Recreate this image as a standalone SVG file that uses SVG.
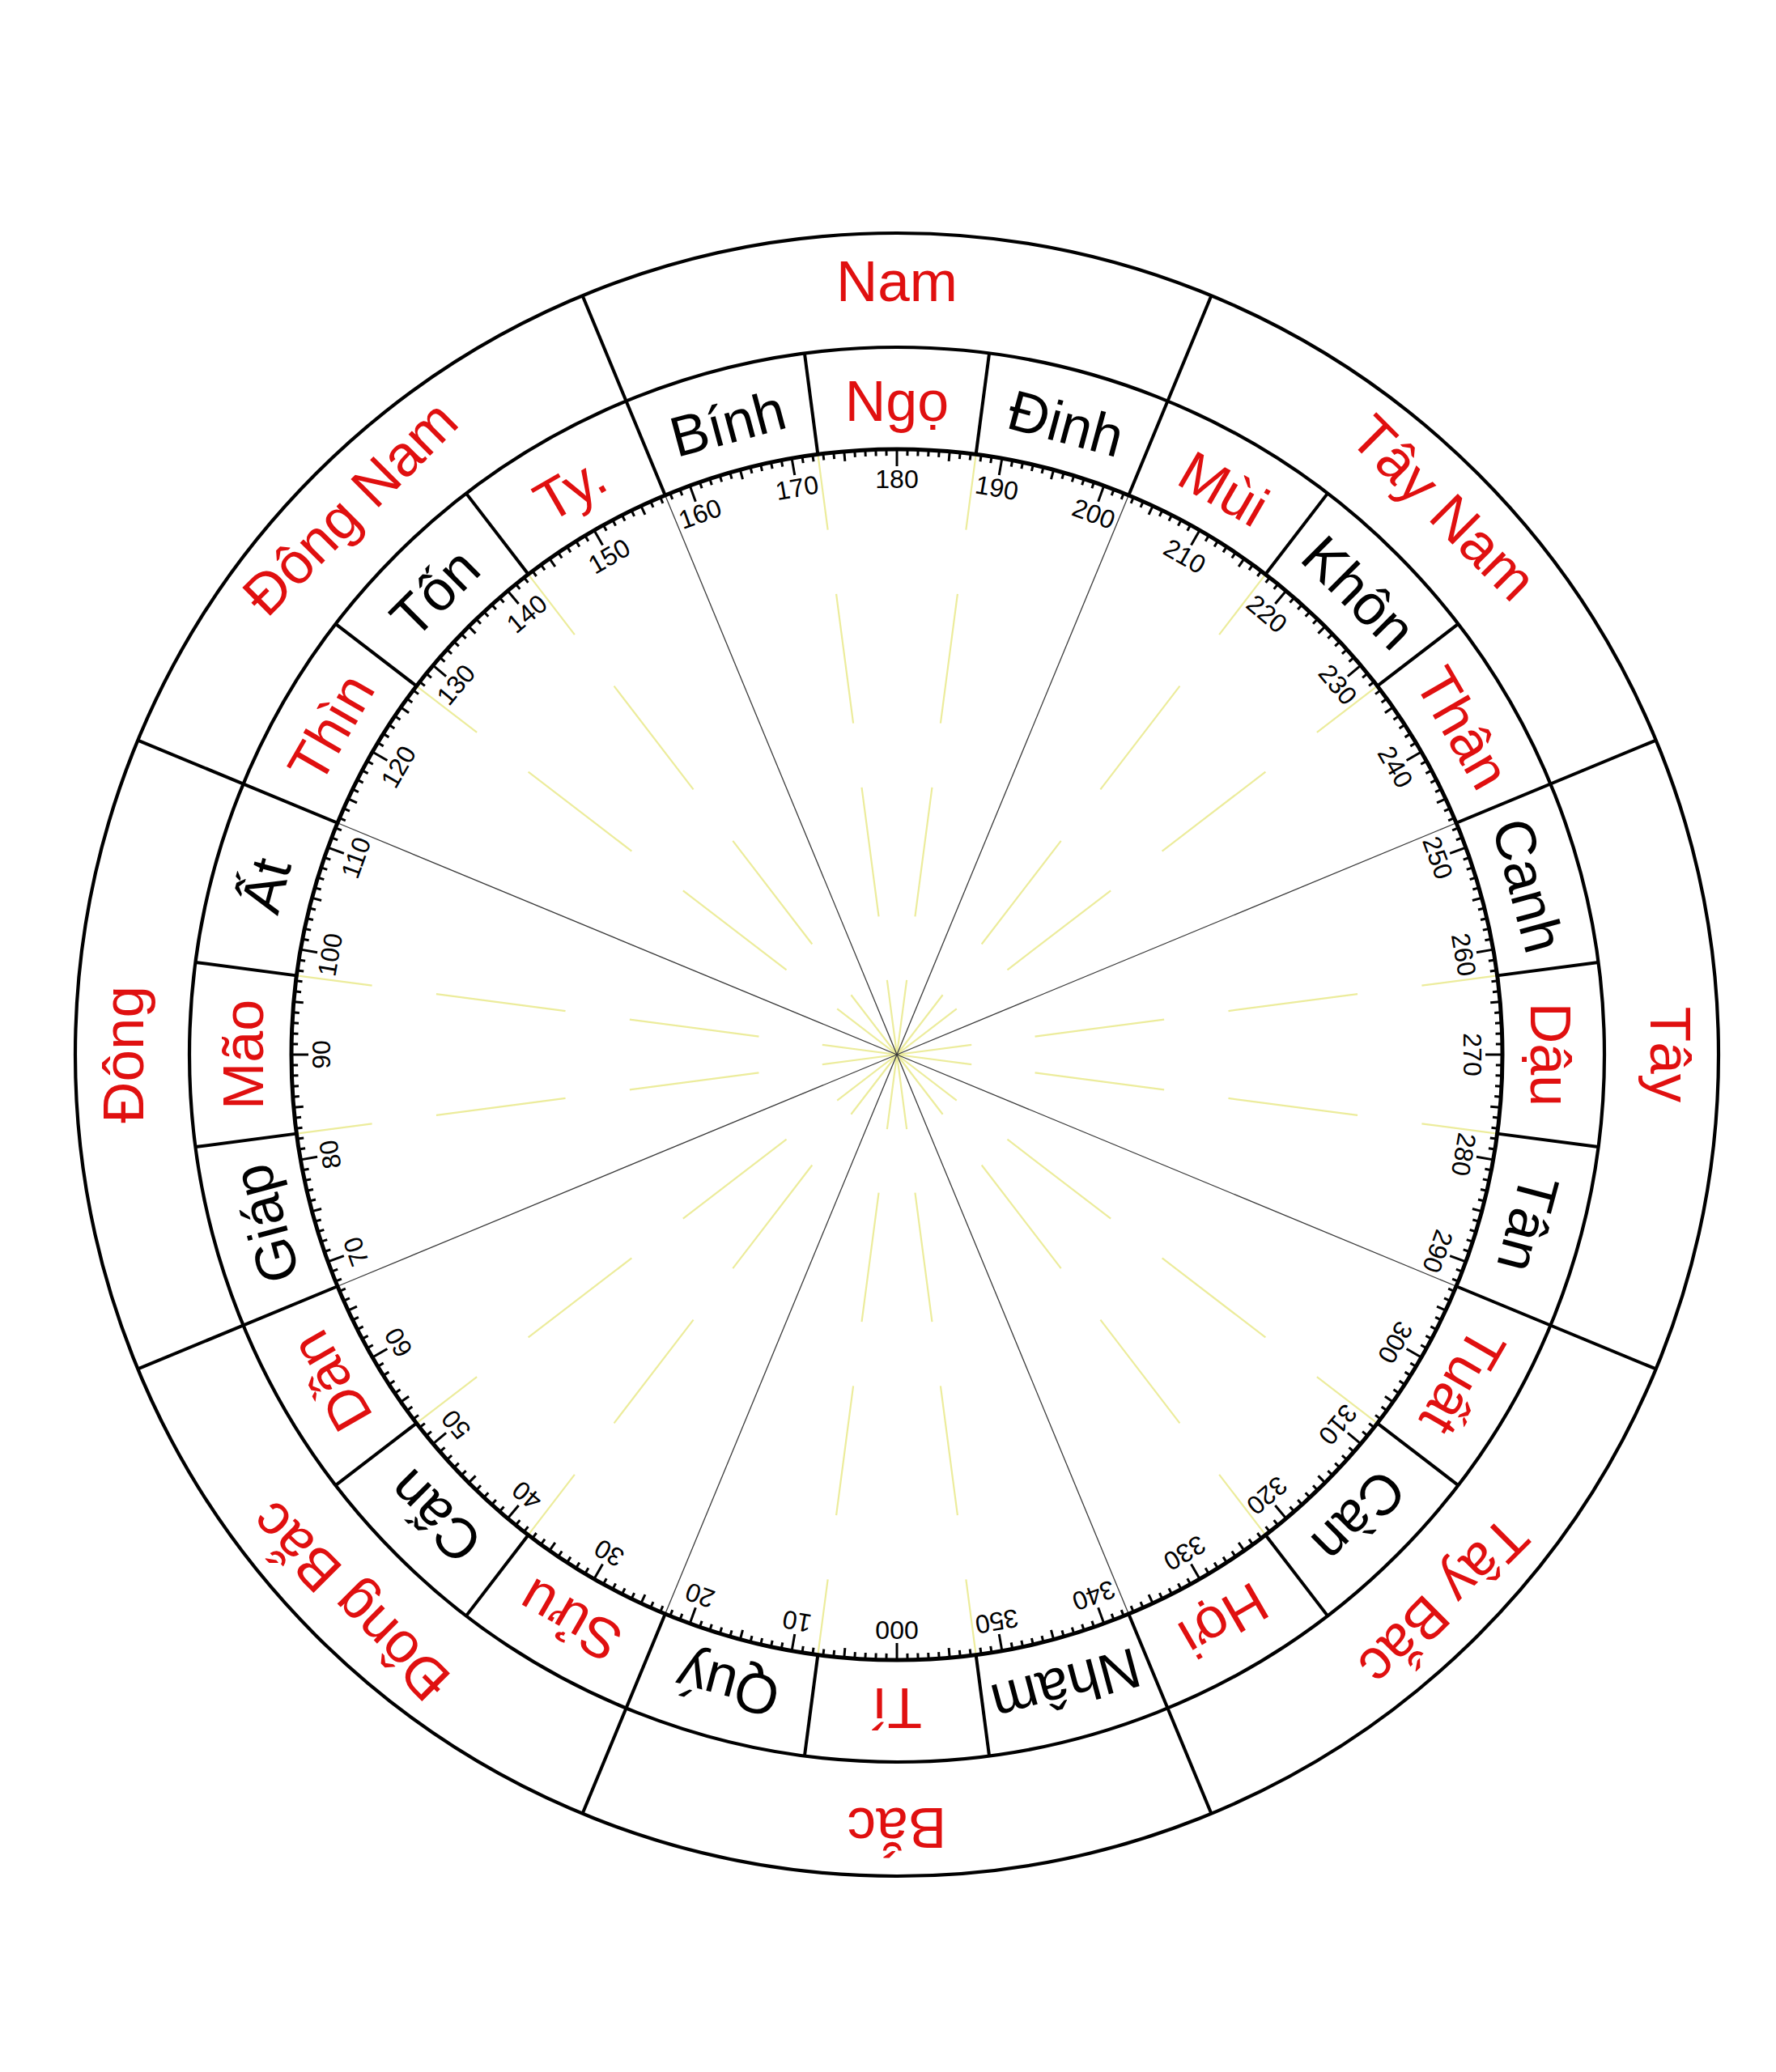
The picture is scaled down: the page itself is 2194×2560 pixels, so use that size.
<svg xmlns="http://www.w3.org/2000/svg" xmlns:xlink="http://www.w3.org/1999/xlink" width="2194" height="2560" viewBox="0 0 2194 2560">
<style>
.ring{fill:none;stroke:#000;stroke-width:4.2}
.scale{fill:none;stroke:#000;stroke-width:5}
.dv{stroke:#000;stroke-width:4}
.gray{stroke:#3c3c3c;stroke-width:1.3}
.yel{stroke:#ecec9c;stroke-width:2.2;stroke-dasharray:93 79 161 80 161 80 94}
.tk{stroke:#000;stroke-width:3}
text{font-family:"Liberation Sans",Arial,sans-serif;text-anchor:middle}
.num{font-size:32px;fill:#000}
.mt{font-size:70px}
.dir{font-size:71px;fill:#e01010}
.r{fill:#e01010}
.k{fill:#000}
</style>
<defs>
<g id="tk10">
<line class="tk" x1="0" y1="748" x2="0" y2="727"/>
<line class="tk" x1="0" y1="748" x2="0" y2="740" transform="rotate(1)"/>
<line class="tk" x1="0" y1="748" x2="0" y2="740" transform="rotate(2)"/>
<line class="tk" x1="0" y1="748" x2="0" y2="740" transform="rotate(3)"/>
<line class="tk" x1="0" y1="748" x2="0" y2="740" transform="rotate(4)"/>
<line class="tk" x1="0" y1="748" x2="0" y2="736" transform="rotate(5)"/>
<line class="tk" x1="0" y1="748" x2="0" y2="740" transform="rotate(6)"/>
<line class="tk" x1="0" y1="748" x2="0" y2="740" transform="rotate(7)"/>
<line class="tk" x1="0" y1="748" x2="0" y2="740" transform="rotate(8)"/>
<line class="tk" x1="0" y1="748" x2="0" y2="740" transform="rotate(9)"/>
</g>
<line id="yl" class="yel" x1="0" y1="0" x2="0" y2="748"/>
<line id="gl" class="gray" x1="0" y1="0" x2="0" y2="748"/>
<line id="sd" class="dv" x1="0" y1="748" x2="0" y2="874"/>
<line id="ld" class="dv" x1="0" y1="748" x2="0" y2="1015"/>
</defs>
<rect width="2194" height="2560" fill="#fff"/>
<g transform="translate(1108 1303)">
<g id="connectors">
<g id="yellow-guides">
<use xlink:href="#yl" transform="rotate(7.5)"/><use xlink:href="#yl" transform="rotate(37.5)"/><use xlink:href="#yl" transform="rotate(52.5)"/><use xlink:href="#yl" transform="rotate(82.5)"/>
<use xlink:href="#yl" transform="rotate(97.5)"/><use xlink:href="#yl" transform="rotate(127.5)"/><use xlink:href="#yl" transform="rotate(142.5)"/><use xlink:href="#yl" transform="rotate(172.5)"/>
<use xlink:href="#yl" transform="rotate(187.5)"/><use xlink:href="#yl" transform="rotate(217.5)"/><use xlink:href="#yl" transform="rotate(232.5)"/><use xlink:href="#yl" transform="rotate(262.5)"/>
<use xlink:href="#yl" transform="rotate(277.5)"/><use xlink:href="#yl" transform="rotate(307.5)"/><use xlink:href="#yl" transform="rotate(322.5)"/><use xlink:href="#yl" transform="rotate(352.5)"/>
</g>
<g id="gray-guides">
<use xlink:href="#gl" transform="rotate(22.5)"/><use xlink:href="#gl" transform="rotate(67.5)"/><use xlink:href="#gl" transform="rotate(112.5)"/><use xlink:href="#gl" transform="rotate(157.5)"/>
<use xlink:href="#gl" transform="rotate(202.5)"/><use xlink:href="#gl" transform="rotate(247.5)"/><use xlink:href="#gl" transform="rotate(292.5)"/><use xlink:href="#gl" transform="rotate(337.5)"/>
</g>
<g id="dividers">
<use xlink:href="#sd" transform="rotate(7.5)"/><use xlink:href="#sd" transform="rotate(37.5)"/><use xlink:href="#sd" transform="rotate(52.5)"/><use xlink:href="#sd" transform="rotate(82.5)"/>
<use xlink:href="#sd" transform="rotate(97.5)"/><use xlink:href="#sd" transform="rotate(127.5)"/><use xlink:href="#sd" transform="rotate(142.5)"/><use xlink:href="#sd" transform="rotate(172.5)"/>
<use xlink:href="#sd" transform="rotate(187.5)"/><use xlink:href="#sd" transform="rotate(217.5)"/><use xlink:href="#sd" transform="rotate(232.5)"/><use xlink:href="#sd" transform="rotate(262.5)"/>
<use xlink:href="#sd" transform="rotate(277.5)"/><use xlink:href="#sd" transform="rotate(307.5)"/><use xlink:href="#sd" transform="rotate(322.5)"/><use xlink:href="#sd" transform="rotate(352.5)"/>
<use xlink:href="#ld" transform="rotate(22.5)"/><use xlink:href="#ld" transform="rotate(67.5)"/><use xlink:href="#ld" transform="rotate(112.5)"/><use xlink:href="#ld" transform="rotate(157.5)"/>
<use xlink:href="#ld" transform="rotate(202.5)"/><use xlink:href="#ld" transform="rotate(247.5)"/><use xlink:href="#ld" transform="rotate(292.5)"/><use xlink:href="#ld" transform="rotate(337.5)"/>
</g>
</g>
<g id="rings">
<circle class="ring" r="1015"/>
<circle class="ring" r="874"/>
<circle class="scale" r="748"/>
</g>
<g id="ticks">
<use xlink:href="#tk10"/><use xlink:href="#tk10" transform="rotate(10)"/><use xlink:href="#tk10" transform="rotate(20)"/><use xlink:href="#tk10" transform="rotate(30)"/>
<use xlink:href="#tk10" transform="rotate(40)"/><use xlink:href="#tk10" transform="rotate(50)"/><use xlink:href="#tk10" transform="rotate(60)"/><use xlink:href="#tk10" transform="rotate(70)"/>
<use xlink:href="#tk10" transform="rotate(80)"/><use xlink:href="#tk10" transform="rotate(90)"/><use xlink:href="#tk10" transform="rotate(100)"/><use xlink:href="#tk10" transform="rotate(110)"/>
<use xlink:href="#tk10" transform="rotate(120)"/><use xlink:href="#tk10" transform="rotate(130)"/><use xlink:href="#tk10" transform="rotate(140)"/><use xlink:href="#tk10" transform="rotate(150)"/>
<use xlink:href="#tk10" transform="rotate(160)"/><use xlink:href="#tk10" transform="rotate(170)"/><use xlink:href="#tk10" transform="rotate(180)"/><use xlink:href="#tk10" transform="rotate(190)"/>
<use xlink:href="#tk10" transform="rotate(200)"/><use xlink:href="#tk10" transform="rotate(210)"/><use xlink:href="#tk10" transform="rotate(220)"/><use xlink:href="#tk10" transform="rotate(230)"/>
<use xlink:href="#tk10" transform="rotate(240)"/><use xlink:href="#tk10" transform="rotate(250)"/><use xlink:href="#tk10" transform="rotate(260)"/><use xlink:href="#tk10" transform="rotate(270)"/>
<use xlink:href="#tk10" transform="rotate(280)"/><use xlink:href="#tk10" transform="rotate(290)"/><use xlink:href="#tk10" transform="rotate(300)"/><use xlink:href="#tk10" transform="rotate(310)"/>
<use xlink:href="#tk10" transform="rotate(320)"/><use xlink:href="#tk10" transform="rotate(330)"/><use xlink:href="#tk10" transform="rotate(340)"/><use xlink:href="#tk10" transform="rotate(350)"/>
</g>
<g id="degree-labels" class="num">
<text y="-700" transform="rotate(-180)">000</text>
<text y="-700" transform="rotate(-170)">10</text>
<text y="-700" transform="rotate(-160)">20</text>
<text y="-700" transform="rotate(-150)">30</text>
<text y="-700" transform="rotate(-140)">40</text>
<text y="-700" transform="rotate(-130)">50</text>
<text y="-700" transform="rotate(-120)">60</text>
<text y="-700" transform="rotate(-110)">70</text>
<text y="-700" transform="rotate(-100)">80</text>
<text y="-700" transform="rotate(-90)">90</text>
<text y="-700" transform="rotate(-80)">100</text>
<text y="-700" transform="rotate(-70)">110</text>
<text y="-700" transform="rotate(-60)">120</text>
<text y="-700" transform="rotate(-50)">130</text>
<text y="-700" transform="rotate(-40)">140</text>
<text y="-700" transform="rotate(-30)">150</text>
<text y="-700" transform="rotate(-20)">160</text>
<text y="-700" transform="rotate(-10)">170</text>
<text y="-700">180</text>
<text y="-700" transform="rotate(10)">190</text>
<text y="-700" transform="rotate(20)">200</text>
<text y="-700" transform="rotate(30)">210</text>
<text y="-700" transform="rotate(40)">220</text>
<text y="-700" transform="rotate(50)">230</text>
<text y="-700" transform="rotate(60)">240</text>
<text y="-700" transform="rotate(70)">250</text>
<text y="-700" transform="rotate(80)">260</text>
<text y="-700" transform="rotate(90)">270</text>
<text y="-700" transform="rotate(100)">280</text>
<text y="-700" transform="rotate(110)">290</text>
<text y="-700" transform="rotate(120)">300</text>
<text y="-700" transform="rotate(130)">310</text>
<text y="-700" transform="rotate(140)">320</text>
<text y="-700" transform="rotate(150)">330</text>
<text y="-700" transform="rotate(160)">340</text>
<text y="-700" transform="rotate(170)">350</text>
</g>
<g id="mountains" class="mt">
<g id="m-ti"><text class="r" y="-783" transform="rotate(-180)">Tí</text></g>
<g id="m-quy"><text class="k" y="-783" transform="rotate(-165)">Quý</text></g>
<g id="m-suu"><text class="r" y="-783" transform="rotate(-150)">Sửu</text></g>
<g id="m-can-ne"><text class="k" y="-783" transform="rotate(-135)">Cấn</text></g>
<g id="m-dan"><text class="r" y="-783" transform="rotate(-120)">Dần</text></g>
<g id="m-giap"><text class="k" y="-783" transform="rotate(-105)">Giáp</text></g>
<g id="m-mao"><text class="r" y="-783" transform="rotate(-90)">Mão</text></g>
<g id="m-at"><text class="k" y="-783" transform="rotate(-75)">Ất</text></g>
<g id="m-thin"><text class="r" y="-783" transform="rotate(-60)">Thìn</text></g>
<g id="m-ton"><text class="k" y="-783" transform="rotate(-45)">Tốn</text></g>
<g id="m-ty"><text class="r" y="-783" transform="rotate(-30)">Ty.</text></g>
<g id="m-binh"><text class="k" y="-783" transform="rotate(-15)">Bính</text></g>
<g id="m-ngo"><text class="r" y="-783">Ngọ</text></g>
<g id="m-dinh"><text class="k" y="-783" transform="rotate(15)">Đinh</text></g>
<g id="m-mui"><text class="r" y="-783" transform="rotate(30)">Mùi</text></g>
<g id="m-khon"><text class="k" y="-783" transform="rotate(45)">Khôn</text></g>
<g id="m-than"><text class="r" y="-783" transform="rotate(60)">Thân</text></g>
<g id="m-canh"><text class="k" y="-783" transform="rotate(75)">Canh</text></g>
<g id="m-dau"><text class="r" y="-783" transform="rotate(90)">Dậu</text></g>
<g id="m-tan"><text class="k" y="-783" transform="rotate(105)">Tân</text></g>
<g id="m-tuat"><text class="r" y="-783" transform="rotate(120)">Tuất</text></g>
<g id="m-can-nw"><text class="k" y="-783" transform="rotate(135)">Càn</text></g>
<g id="m-hoi"><text class="r" y="-783" transform="rotate(150)">Hợi</text></g>
<g id="m-nham"><text class="k" y="-783" transform="rotate(165)">Nhâm</text></g>
</g>
<g id="directions" class="dir">
<g id="d-bac"><text y="-931" transform="rotate(-180)">Bắc</text></g>
<g id="d-dong-bac"><text y="-931" transform="rotate(-135)">Đông Bắc</text></g>
<g id="d-dong"><text y="-931" transform="rotate(-90)">Đông</text></g>
<g id="d-dong-nam"><text y="-931" transform="rotate(-45)">Đông Nam</text></g>
<g id="d-nam"><text y="-931">Nam</text></g>
<g id="d-tay-nam"><text y="-931" transform="rotate(45)">Tây Nam</text></g>
<g id="d-tay"><text y="-931" transform="rotate(90)">Tây</text></g>
<g id="d-tay-bac"><text y="-931" transform="rotate(135)">Tây Bắc</text></g>
</g>
</g>
</svg>
